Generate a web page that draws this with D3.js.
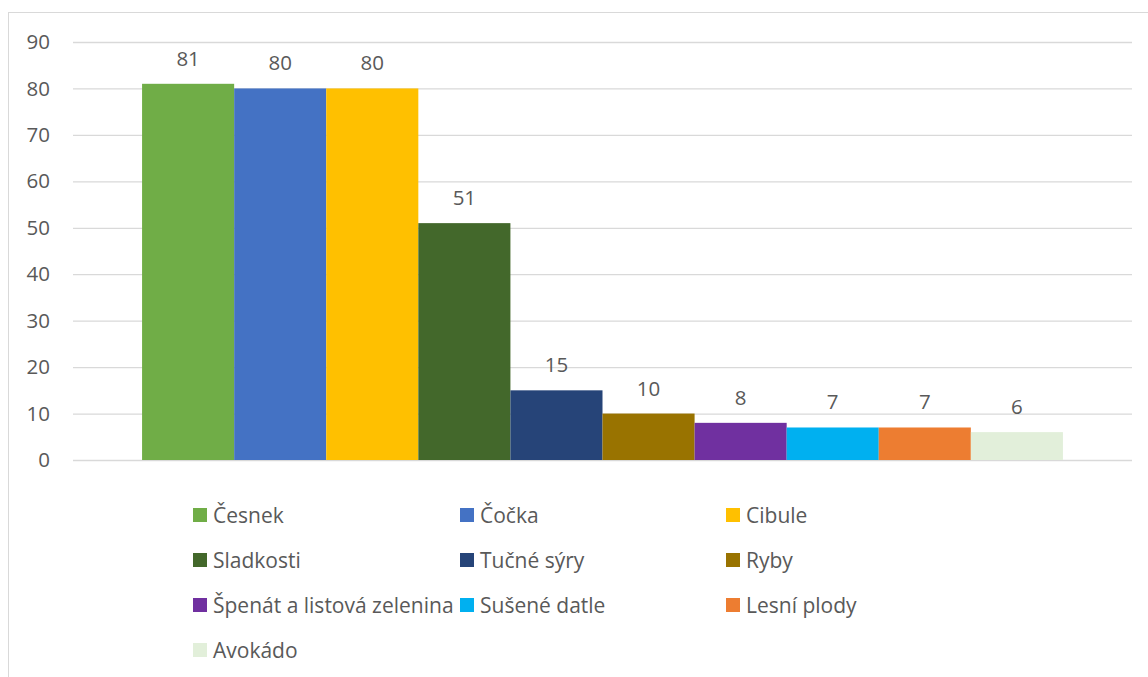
<!DOCTYPE html>
<html><head><meta charset="utf-8">
<script src="https://cdn.jsdelivr.net/npm/d3@7"></script>
<style>
html,body{margin:0;padding:0;background:#fff;}
svg{display:block;}
text{font-family:"Open Sans",Lato,sans-serif;fill:#595959;}
</style></head>
<body>
<svg id="c" width="1148" height="677"></svg>
<script>
const categories = ["Česnek","Čočka","Cibule","Sladkosti","Tučné sýry","Ryby","Špenát a listová zelenina","Sušené datle","Lesní plody","Avokádo"];
const values = [81,80,80,51,15,10,8,7,7,6];
const colors = ["#70AD47","#4472C4","#FFC000","#43682B","#264478","#997300","#7030A0","#00B0F0","#ED7D31","#E2EFDA"];
const yTicks = [0,10,20,30,40,50,60,70,80,90];

(function(){
const svg = d3.select("#c");
svg.append("rect").attr("x",8.5).attr("y",12.5).attr("width",1150).attr("height",700)
  .attr("fill","none").attr("stroke","#d9d9d9").attr("stroke-width",1);

const pL=73, pR=1132, pT=42, pB=460;
const y = d3.scaleLinear().domain([0,90]).range([pB,pT]);
const x = d3.scaleBand().domain(categories).range([pL,pR]).paddingInner(0).paddingOuter(0.75);

const yAxis = svg.append("g").attr("transform",`translate(${pL},0)`)
  .call(d3.axisLeft(y).tickValues(yTicks).tickSize(-(pR-pL)).tickPadding(23));
yAxis.select(".domain").remove();
yAxis.selectAll(".tick line").attr("stroke","#d9d9d9").attr("stroke-width",1.3);
yAxis.selectAll(".tick text").attr("font-size",20.5).style("font-family","'Open Sans',Lato,sans-serif").attr("fill","#595959");

svg.append("g").selectAll("rect").data(categories).join("rect")
  .attr("x",d=>x(d)).attr("width",x.bandwidth())
  .attr("y",(d,i)=>y(values[i])).attr("height",(d,i)=>pB-y(values[i]))
  .attr("fill",(d,i)=>colors[i]);

svg.append("g").selectAll("text").data(categories).join("text")
  .attr("x",d=>x(d)+x.bandwidth()/2).attr("y",(d,i)=>y(values[i])-18)
  .attr("text-anchor","middle").attr("font-size",20.5).text((d,i)=>values[i]);

const legX = d3.scaleOrdinal().domain([0,1,2]).range([193,460,726]);
const legY = d3.scaleOrdinal().domain([0,1,2,3]).range([515,560,605,650]);
const lg = svg.append("g").selectAll("g").data(categories).join("g")
  .attr("transform",(d,i)=>`translate(${legX(i%3)},${legY(Math.floor(i/3))})`);
lg.append("rect").attr("x",0).attr("y",-7).attr("width",14).attr("height",14).attr("fill",(d,i)=>colors[i]);
lg.append("text").attr("x",20).attr("y",0).attr("dy","0.36em").attr("font-size",21).text(d=>d);
})();
</script>
</body></html>
